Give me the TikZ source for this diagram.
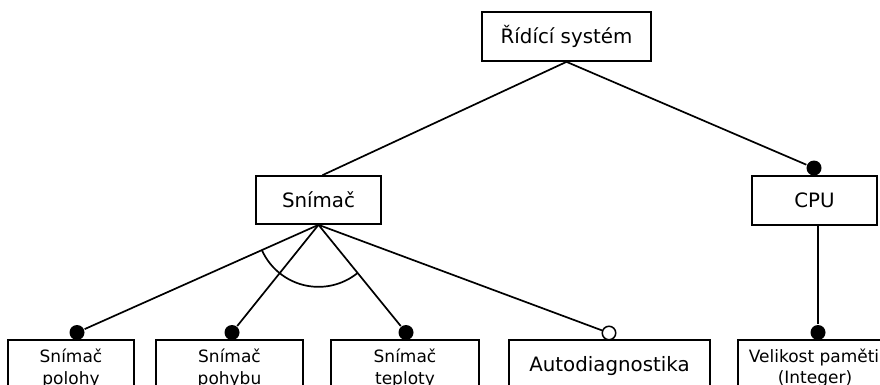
\documentclass[tikz,border=0pt]{standalone}
\usepackage{fontspec}
\setmainfont{DejaVu Sans}
\begin{document}
\begin{tikzpicture}[x=1pt,y=-1pt, line width=1.7pt,
 box/.style={draw, line width=1.7pt, inner sep=0pt, align=center},
 big/.style={font=\fontsize{19.8}{24}\selectfont},
 small/.style={font=\fontsize{17}{20}\selectfont},
 txt/.style={inner sep=0pt, anchor=base},
 dot/.style={circle, fill, inner sep=0pt, minimum size=15pt},
 odot/.style={circle, draw, fill=white, inner sep=0pt, minimum size=13.5pt, line width=1.5pt}]
\useasboundingbox (0,0) rectangle (880,385);
\clip (0,0) rectangle (880,385);
\node[box,big,minimum width=169pt,minimum height=49pt] (root) at (566.5,36.5) {Řídící systém};
\node[box,big,minimum width=125pt,minimum height=48pt] (snimac) at (318.5,200) {Snímač};
\node[box,big,minimum width=125pt,minimum height=49pt] (cpu) at (814.5,200.5) {CPU};
% bottom boxes (their lower edges lie below the picture)
\node[box,minimum width=126pt,minimum height=60pt] (polohy) at (71,370) {};
\node[box,minimum width=147pt,minimum height=60pt] (pohybu) at (229.5,370) {};
\node[box,minimum width=148pt,minimum height=60pt] (teploty) at (405,370) {};
\node[box,minimum width=201pt,minimum height=60pt] (auto) at (609.5,370) {};
\node[box,minimum width=156pt,minimum height=60pt] (velikost) at (816,370) {};
% texts of the bottom boxes
\node[txt,small] (t1a) at (71,362) {Snímač};
\node[txt,small] (t1b) at (71,384) {polohy};
\node[txt,small] (t2a) at (229.5,362) {Snímač};
\node[txt,small] (t2b) at (229.5,384) {pohybu};
\node[txt,small] (t3a) at (405,362) {Snímač};
\node[txt,small] (t3b) at (405,384) {teploty};
\node[txt,big] (t4) at (609.5,371) {Autodiagnostika};
\node[txt,small] (t5a) at (814,362) {Velikost paměti};
\node[txt,small] (t5b) at (815,383) {(Integer)};
% feature markers
\node[dot] (dcpu) at (814,168) {};
\node[dot] (d1) at (77,332.5) {};
\node[dot] (d2) at (232,332.5) {};
\node[dot] (d3) at (406,332.5) {};
\node[odot] (d4) at (609,333) {};
\node[dot] (d5) at (818,332.5) {};
% connectors
\draw (root.south) -- ([xshift=4pt]snimac.north);
\draw (root.south) -- (dcpu);
\draw (snimac.south) -- (d1);
\draw (snimac.south) -- (d2);
\draw (snimac.south) -- (d3);
\draw (snimac.south) -- (d4);
\draw (d5) -- (d5 |- cpu.south);
\draw ([shift={(203.9:62pt)}]snimac.south) arc[start angle=203.9, end angle=309.4, radius=62pt];
\end{tikzpicture}
\end{document}
